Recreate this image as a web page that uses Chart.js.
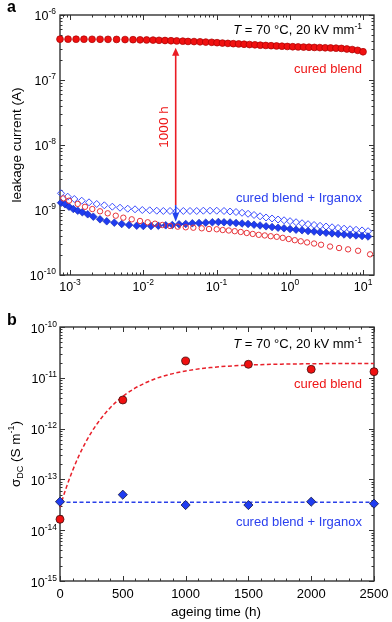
<!DOCTYPE html>
<html><head><meta charset="utf-8">
<script src="https://cdn.jsdelivr.net/npm/chart.js@4.4.1/dist/chart.umd.min.js"></script>
<style>
html,body{margin:0;padding:0;background:#fff;}
#wa{position:absolute;left:0;top:0;width:392px;height:300px;}
#wb{position:absolute;left:0;top:300px;width:392px;height:322px;}
canvas{display:block;}
</style></head><body>
<div id="wa"><canvas id="ca" width="392" height="300" style="width:392px;height:300px"></canvas></div>
<div id="wb"><canvas id="cb" width="392" height="322" style="width:392px;height:322px"></canvas></div>
<script>
// ---------------- Panel a data (time in h, leakage current in A) ----------------
const aTimeAged = [7.3e-4, 9.4e-4, 1.21e-3, 1.55e-3, 2.0e-3, 2.57e-3, 3.3e-3, 4.32e-3, 5.64e-3, 7.24e-3, 9.04e-3, 0.0111, 0.0136, 0.0164, 0.0198, 0.0239, 0.0286, 0.0346, 0.0408, 0.0493, 0.0596, 0.0713, 0.0859, 0.1016, 0.1204, 0.1428, 0.1692, 0.2005, 0.2377, 0.2818, 0.3339, 0.3958, 0.4691, 0.5559, 0.6589, 0.7809, 0.9256, 1.097, 1.300, 1.541, 1.826, 2.165, 2.566, 3.041, 3.604, 4.272, 5.063, 6.001, 7.112, 8.430, 9.99];
const aCuredAged = [4.25e-7, 4.25e-7, 4.24e-7, 4.24e-7, 4.23e-7, 4.23e-7, 4.22e-7, 4.21e-7, 4.19e-7, 4.17e-7, 4.15e-7, 4.13e-7, 4.11e-7, 4.08e-7, 4.05e-7, 4.02e-7, 3.99e-7, 3.96e-7, 3.92e-7, 3.90e-7, 3.87e-7, 3.83e-7, 3.80e-7, 3.75e-7, 3.70e-7, 3.66e-7, 3.62e-7, 3.59e-7, 3.55e-7, 3.51e-7, 3.48e-7, 3.43e-7, 3.40e-7, 3.37e-7, 3.34e-7, 3.31e-7, 3.28e-7, 3.25e-7, 3.23e-7, 3.21e-7, 3.19e-7, 3.17e-7, 3.15e-7, 3.13e-7, 3.11e-7, 3.09e-7, 3.06e-7, 3.00e-7, 2.94e-7, 2.86e-7, 2.72e-7];

const aTimeCuredInit = [8.10e-4, 9.69e-4, 1.274e-3, 1.602e-3, 2.015e-3, 2.57e-3, 3.27e-3, 4.21e-3, 5.34e-3, 6.96e-3, 9.03e-3, 0.0115, 0.01446, 0.0182, 0.0232, 0.02954, 0.038, 0.0482, 0.0628, 0.079, 0.1006, 0.1215, 0.1468, 0.1772, 0.2140, 0.2585, 0.3120, 0.3768, 0.4550, 0.5494, 0.6635, 0.8013, 0.9676, 1.169, 1.411, 1.720, 2.144, 2.671, 3.544, 4.704, 6.241, 8.547, 12.46];
const aCuredInit = [1.51e-9, 1.39e-9, 1.24e-9, 1.12e-9, 1.035e-9, 9.55e-10, 8.89e-10, 8.17e-10, 7.62e-10, 7.19e-10, 6.78e-10, 6.47e-10, 6.16e-10, 5.88e-10, 5.68e-10, 5.54e-10, 5.42e-10, 5.34e-10, 5.23e-10, 5.10e-10, 5.05e-10, 4.92e-10, 4.84e-10, 4.72e-10, 4.59e-10, 4.43e-10, 4.28e-10, 4.15e-10, 4.06e-10, 3.95e-10, 3.87e-10, 3.73e-10, 3.58e-10, 3.43e-10, 3.30e-10, 3.17e-10, 3.05e-10, 2.92e-10, 2.74e-10, 2.60e-10, 2.48e-10, 2.36e-10, 2.08e-10];

const aTimeIrgAged = [7.54e-4, 8.55e-4, 9.69e-4, 1.110e-3, 1.274e-3, 1.472e-3, 1.744e-3, 2.080e-3, 2.568e-3, 3.170e-3, 4.025e-3, 5.08e-3, 6.39e-3, 8.14e-3, 0.01002, 0.01276, 0.01605, 0.02025, 0.02492, 0.03077, 0.03798, 0.04673, 0.05769, 0.07121, 0.08764, 0.1058, 0.1265, 0.1529, 0.1845, 0.2229, 0.2692, 0.3250, 0.3926, 0.4740, 0.5724, 0.6913, 0.8346, 1.008, 1.217, 1.470, 1.775, 2.144, 2.588, 3.126, 3.774, 4.557, 5.503, 6.645, 8.024, 9.69, 11.70];
const aIrgAged = [1.294e-9, 1.224e-9, 1.124e-9, 1.036e-9, 9.75e-10, 9.22e-10, 8.59e-10, 7.89e-10, 7.19e-10, 6.70e-10, 6.38e-10, 6.09e-10, 5.88e-10, 5.73e-10, 5.67e-10, 5.67e-10, 5.73e-10, 5.82e-10, 5.88e-10, 6.03e-10, 6.09e-10, 6.24e-10, 6.31e-10, 6.38e-10, 6.47e-10, 6.54e-10, 6.47e-10, 6.43e-10, 6.31e-10, 6.20e-10, 6.09e-10, 5.94e-10, 5.78e-10, 5.61e-10, 5.47e-10, 5.34e-10, 5.23e-10, 5.10e-10, 4.98e-10, 4.88e-10, 4.75e-10, 4.66e-10, 4.55e-10, 4.46e-10, 4.37e-10, 4.28e-10, 4.20e-10, 4.12e-10, 4.06e-10, 3.98e-10, 3.91e-10];

const aTimeIrgInit = [7.54e-4, 9.30e-4, 1.145e-3, 1.444e-3, 1.817e-3, 2.314e-3, 2.939e-3, 3.780e-3, 4.815e-3, 6.134e-3, 7.716e-3, 9.70e-3, 0.01225, 0.01527, 0.01878, 0.02318, 0.02862, 0.03522, 0.04346, 0.05365, 0.06604, 0.08150, 0.1006, 0.1265, 0.1529, 0.1845, 0.2229, 0.2692, 0.3250, 0.3926, 0.4740, 0.5724, 0.6913, 0.8346, 1.008, 1.217, 1.470, 1.775, 2.144, 2.588, 3.126, 3.774, 4.557, 5.503, 6.645, 8.024, 9.69, 11.70];
const aIrgInit = [1.807e-9, 1.603e-9, 1.476e-9, 1.390e-9, 1.313e-9, 1.237e-9, 1.181e-9, 1.124e-9, 1.084e-9, 1.047e-9, 1.025e-9, 1.0e-9, 9.89e-10, 9.75e-10, 9.66e-10, 9.66e-10, 9.66e-10, 9.66e-10, 9.66e-10, 9.66e-10, 9.75e-10, 9.75e-10, 9.75e-10, 9.66e-10, 9.48e-10, 9.31e-10, 9.06e-10, 8.75e-10, 8.38e-10, 8.00e-10, 7.67e-10, 7.40e-10, 7.14e-10, 6.95e-10, 6.73e-10, 6.49e-10, 6.26e-10, 6.05e-10, 5.88e-10, 5.71e-10, 5.57e-10, 5.42e-10, 5.29e-10, 5.16e-10, 5.05e-10, 4.96e-10, 4.85e-10, 4.72e-10];

const aXRange = [7.3e-4, 14.1];
const aYRange = [1e-10, 1e-6];
const aXTickExp = [-3, -2, -1, 0, 1];
const aYTickExp = [-10, -9, -8, -7, -6];
// "1000 h" arrow (time, base current, tips)
const arrowTime = 0.0277;
const arrowBase = 1.19e-9;
const arrowRedTip = 3.14e-7;
const arrowBlueTip = 6.6e-10;

// ---------------- Panel b data (ageing time in h, sigma DC in S/m) ----------------
const bAgeing = [0, 500, 1000, 1500, 2000, 2500];
const bSigmaCured = [1.64e-14, 3.66e-12, 2.14e-11, 1.845e-11, 1.47e-11, 1.32e-11];
const bSigmaIrganox = [3.64e-14, 5.0e-14, 3.13e-14, 3.13e-14, 3.64e-14, 3.33e-14];
const bFitHours = [0, 25, 50, 75, 100, 150, 200, 250, 300, 400, 500, 600, 700, 800, 1000, 1200, 1500, 2000, 2500];
const bFitCured = [2.82e-14, 4.48e-14, 6.89e-14, 1.03e-13, 1.49e-13, 2.90e-13, 5.14e-13, 8.45e-13, 1.29e-12, 2.58e-12, 4.30e-12, 6.31e-12, 8.36e-12, 1.04e-11, 1.36e-11, 1.59e-11, 1.78e-11, 1.89e-11, 1.92e-11];
const bFitIrgHours = [0, 2500];
const bFitIrganox = [3.55e-14, 3.55e-14];
const bXRange = [0, 2500];
const bYRange = [1e-15, 1e-10];
const bXTicks = [0, 500, 1000, 1500, 2000, 2500];
const bYTickExp = [-15, -14, -13, -12, -11, -10];

// ---------------- styling ----------------
const FONT = '"Liberation Sans", Arial, Helvetica, sans-serif';
const AXIS = '#333333';
const RED = '#f01010';
const BLUE = '#1f3cf0';
const RED_TXT = '#ee1515';
const BLUE_TXT = '#2b40ee';

function pts(xs, ys) { return xs.map((x, i) => ({ x: x, y: ys[i] })); }

function rich(ctx, parts, x, y, align) {
  let w = 0;
  const ws = parts.map(p => { ctx.font = (p[3] || '') + ' ' + p[1] + 'px ' + FONT; const m = ctx.measureText(p[0]).width; w += m; return m; });
  let cx = align === 'right' ? x - w : (align === 'center' ? x - w / 2 : x);
  ctx.textAlign = 'left'; ctx.textBaseline = 'alphabetic';
  parts.forEach((p, i) => { ctx.font = (p[3] || '') + ' ' + p[1] + 'px ' + FONT; ctx.fillText(p[0], cx, y + (p[2] || 0)); cx += ws[i]; });
}
function seg(ctx, x1, y1, x2, y2) { ctx.beginPath(); ctx.moveTo(x1, y1); ctx.lineTo(x2, y2); ctx.stroke(); }
function logTicks(min, max) {
  const out = [];
  for (let d = Math.floor(Math.log10(min)) - 1; d <= Math.ceil(Math.log10(max)); d++)
    for (let m = 1; m <= 9; m++) { const v = m * Math.pow(10, d); if (v >= min * 0.9999 && v <= max * 1.0001) out.push({ v: v, major: m === 1 }); }
  return out;
}
function drawFrame(chart, xTicks, yTicks) {
  const { ctx, chartArea: a, scales } = chart;
  ctx.save();
  ctx.strokeStyle = AXIS; ctx.lineWidth = 1;
  xTicks.forEach(t => {
    const px = Math.round(scales.x.getPixelForValue(t.v)) + 0.5, L = t.major ? 5 : 2.5;
    seg(ctx, px, a.bottom, px, a.bottom - L); seg(ctx, px, a.top, px, a.top + L);
  });
  yTicks.forEach(t => {
    const py = Math.round(scales.y.getPixelForValue(t.v)) + 0.5, L = t.major ? 5 : 2.5;
    seg(ctx, a.left, py, a.left + L, py); seg(ctx, a.right, py, a.right - L, py);
  });
  ctx.lineWidth = 1.4;
  ctx.strokeRect(a.left, a.top, a.right - a.left, a.bottom - a.top);
  ctx.restore();
}
function arrow(ctx, x, y0, y1, color, headLen, headHalf) {
  const dir = y1 < y0 ? -1 : 1;
  ctx.save();
  ctx.strokeStyle = color; ctx.fillStyle = color; ctx.lineWidth = 1.6;
  seg(ctx, x, y0, x, y1 - dir * headLen + dir);
  ctx.beginPath(); ctx.moveTo(x, y1); ctx.lineTo(x - headHalf, y1 - dir * headLen); ctx.lineTo(x + headHalf, y1 - dir * headLen); ctx.closePath(); ctx.fill();
  ctx.restore();
}
const whiteBg = { id: 'whiteBg', beforeDraw(c) { const ctx = c.ctx; ctx.save(); ctx.fillStyle = '#fff'; ctx.fillRect(0, 0, c.width, c.height); ctx.restore(); } };

// ---------------- Panel a ----------------
const panelA = {
  id: 'panelA',
  beforeDatasetsDraw(chart) {
    const s = chart.scales;
    drawFrame(chart, logTicks(s.x.min, s.x.max), logTicks(s.y.min, s.y.max));
  },
  afterDatasetsDraw(chart) {
    const { ctx, chartArea: a, scales: { x, y } } = chart;
    ctx.save();
    const ax = x.getPixelForValue(arrowTime);
    arrow(ctx, ax, y.getPixelForValue(arrowBase), y.getPixelForValue(arrowRedTip), '#ea1c24', 8, 3.6);
    arrow(ctx, ax, y.getPixelForValue(arrowBase), y.getPixelForValue(arrowBlueTip), '#2244ee', 9, 3.4);
    ctx.fillStyle = '#000';
    aYTickExp.forEach(e => { const py = y.getPixelForValue(Math.pow(10, e)); rich(ctx, [['10', 12.5, 0], [String(e), 8.5, -6]], 56, py + 5, 'right'); });
    aXTickExp.forEach(e => { const px = x.getPixelForValue(Math.pow(10, e)); rich(ctx, [['10', 12.5, 0], [String(e), 8.5, -6]], px, 291, 'center'); });
    rich(ctx, [['time (h)', 13.5, 0]], 209, 309, 'center');
    ctx.save(); ctx.translate(21, (a.top + a.bottom) / 2); ctx.rotate(-Math.PI / 2);
    rich(ctx, [['leakage current (A)', 13.5, 0]], 0, 0, 'center'); ctx.restore();
    rich(ctx, [['a', 16, 0, 'bold']], 7, 12, 'left');
    rich(ctx, [['T', 13, 0, 'italic'], [' = 70 °C, 20 kV mm', 13, 0], ['-1', 8.5, -5.5]], 362, 34, 'right');
    ctx.fillStyle = RED_TXT; rich(ctx, [['cured blend', 13, 0]], 362, 73.3, 'right');
    ctx.fillStyle = BLUE_TXT; rich(ctx, [['cured blend + Irganox', 13, 0]], 362, 202, 'right');
    ctx.save(); ctx.fillStyle = RED_TXT; ctx.translate(168, 127); ctx.rotate(-Math.PI / 2);
    rich(ctx, [['1000 h', 13.5, 0]], 0, 0, 'center'); ctx.restore();
    ctx.restore();
  }
};

new Chart(document.getElementById('ca'), {
  type: 'scatter',
  data: { datasets: [
    { label: 'cured blend (1000 h)', data: pts(aTimeAged, aCuredAged), pointStyle: 'circle', pointRadius: 3.4, backgroundColor: RED, borderColor: '#a80000', borderWidth: 0.7, clip: false },
    { label: 'cured blend (0 h)', data: pts(aTimeCuredInit, aCuredInit), pointStyle: 'circle', pointRadius: 2.7, backgroundColor: 'rgba(255,255,255,0)', borderColor: '#e8353b', borderWidth: 1, clip: false },
    { label: 'cured blend + Irganox (1000 h)', data: pts(aTimeIrgAged, aIrgAged), pointStyle: 'rectRot', pointRadius: 3.8, backgroundColor: BLUE, borderColor: '#1428b8', borderWidth: 0.7, clip: false },
    { label: 'cured blend + Irganox (0 h)', data: pts(aTimeIrgInit, aIrgInit), pointStyle: 'rectRot', pointRadius: 3.5, backgroundColor: 'rgba(255,255,255,0)', borderColor: '#3a4cff', borderWidth: 1, clip: false }
  ] },
  options: {
    responsive: false, animation: false, devicePixelRatio: 1, events: [],
    layout: { padding: { left: 60, top: 15, right: 18, bottom: 25 } },
    scales: {
      x: { type: 'logarithmic', min: aXRange[0], max: aXRange[1], display: false },
      y: { type: 'logarithmic', min: aYRange[0], max: aYRange[1], display: false }
    },
    plugins: { legend: { display: false }, tooltip: { enabled: false } }
  },
  plugins: [whiteBg, panelA]
});

// ---------------- Panel b ----------------
const panelB = {
  id: 'panelB',
  beforeDatasetsDraw(chart) {
    const s = chart.scales;
    const xt = [];
    for (let v = s.x.min; v <= s.x.max; v += 100) xt.push({ v: v, major: bXTicks.indexOf(v) >= 0 });
    drawFrame(chart, xt, logTicks(s.y.min, s.y.max));
  },
  afterDatasetsDraw(chart) {
    const { ctx, chartArea: a, scales: { x, y } } = chart;
    ctx.save();
    ctx.fillStyle = '#000';
    bYTickExp.forEach(e => { const py = y.getPixelForValue(Math.pow(10, e)); rich(ctx, [['10', 12.5, 0], [String(e), 8.5, -6]], 57, py + 5.5, 'right'); });
    bXTicks.forEach(v => { rich(ctx, [[String(v), 13, 0]], x.getPixelForValue(v), 298, 'center'); });
    rich(ctx, [['ageing time (h)', 13.5, 0]], 216, 316, 'center');
    ctx.save(); ctx.translate(20, (a.top + a.bottom) / 2); ctx.rotate(-Math.PI / 2);
    rich(ctx, [['σ', 13.5, 0], ['DC', 9, 3], [' (S m', 13.5, 0], ['-1', 9, -6], [')', 13.5, 0]], 0, 0, 'center'); ctx.restore();
    rich(ctx, [['b', 16, 0, 'bold']], 7, 25, 'left');
    rich(ctx, [['T', 13, 0, 'italic'], [' = 70 °C, 20 kV mm', 13, 0], ['-1', 8.5, -5.5]], 362, 48, 'right');
    ctx.fillStyle = RED_TXT; rich(ctx, [['cured blend', 13, 0]], 362, 88.3, 'right');
    ctx.fillStyle = BLUE_TXT; rich(ctx, [['cured blend + Irganox', 13, 0]], 362, 225.5, 'right');
    ctx.restore();
  }
};

new Chart(document.getElementById('cb'), {
  type: 'scatter',
  data: { datasets: [
    { label: 'cured blend + Irganox', data: pts(bAgeing, bSigmaIrganox), pointStyle: 'rectRot', pointRadius: 4.6, backgroundColor: BLUE, borderColor: '#1a1a40', borderWidth: 0.8, clip: false },
    { label: 'cured blend', data: pts(bAgeing, bSigmaCured), pointStyle: 'circle', pointRadius: 4, backgroundColor: RED, borderColor: '#401010', borderWidth: 0.8, clip: false },
    { type: 'line', label: 'fit cured blend', data: pts(bFitHours, bFitCured), showLine: true, pointRadius: 0, borderColor: '#e8202a', borderWidth: 1.5, borderDash: [4, 2.5], cubicInterpolationMode: 'monotone', fill: false, clip: false },
    { type: 'line', label: 'fit Irganox', data: pts(bFitIrgHours, bFitIrganox), showLine: true, pointRadius: 0, borderColor: '#2a40e8', borderWidth: 1.5, borderDash: [4, 2.5], fill: false, clip: false }
  ] },
  options: {
    responsive: false, animation: false, devicePixelRatio: 1, events: [],
    layout: { padding: { left: 60, top: 27, right: 18, bottom: 41 } },
    scales: {
      x: { type: 'linear', min: bXRange[0], max: bXRange[1], display: false },
      y: { type: 'logarithmic', min: bYRange[0], max: bYRange[1], display: false }
    },
    plugins: { legend: { display: false }, tooltip: { enabled: false } }
  },
  plugins: [whiteBg, panelB]
});
</script>
</body></html>
